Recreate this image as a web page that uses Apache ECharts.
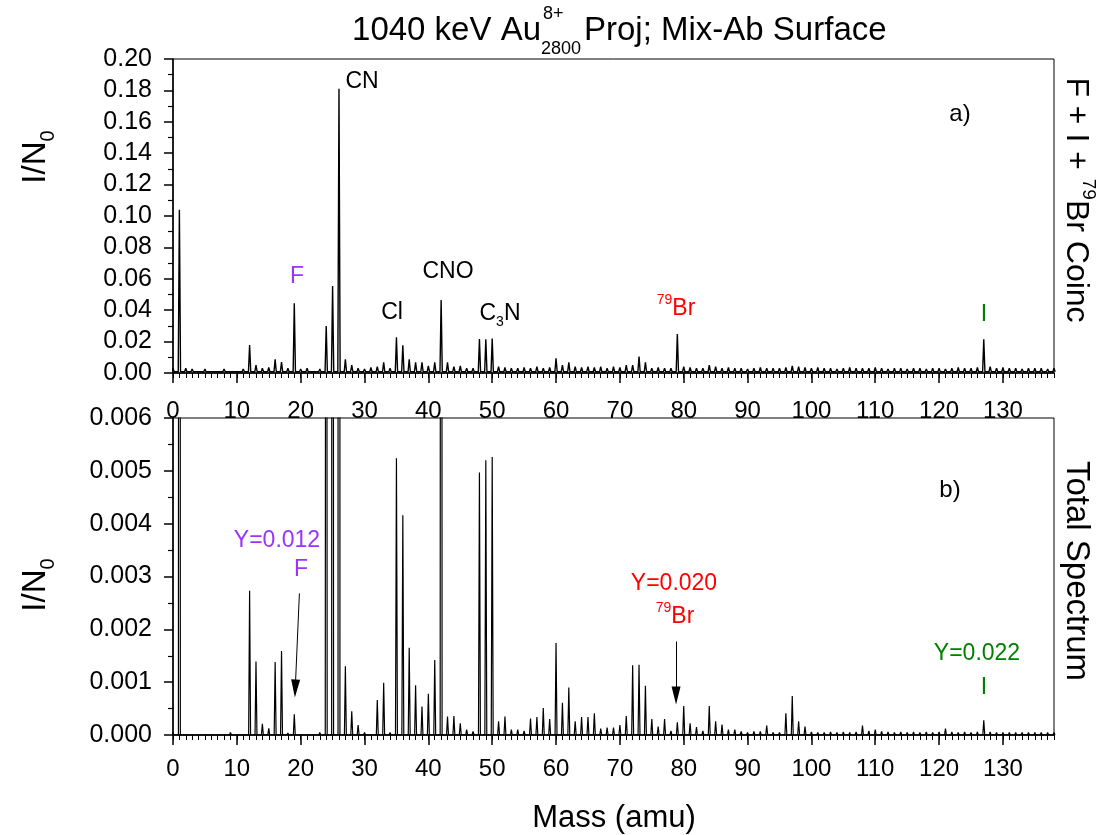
<!DOCTYPE html>
<html><head><meta charset="utf-8">
<script src="https://cdn.jsdelivr.net/npm/echarts@6/dist/echarts.min.js"></script>
<style>html,body{margin:0;padding:0;background:#fff}#c{width:1097px;height:835px}</style>
</head><body><div id="c"></div>
<script>
// ---- DATA (index = mass in amu, 0..138) ----
const xTickValues = [0,10,20,30,40,50,60,70,80,90,100,110,120,130];
const topYTicks = [0,0.02,0.04,0.06,0.08,0.10,0.12,0.14,0.16,0.18,0.20];
const bottomYTicks = [0,0.001,0.002,0.003,0.004,0.005,0.006];

// a) F + I + 79Br coincidence spectrum, I/N0 per integer mass
const coincValues = [
 0.003,0.104,0.003,0.0025,0.002,0.0025,0.002,0.002,0.0025,0.002,
 0.002,0.0025,0.0178,0.005,0.003,0.0035,0.0087,0.007,0.003,0.0444,
 0.0025,0.003,0.002,0.0025,0.030,0.0554,0.181,0.0087,0.005,0.003,
 0.0025,0.0035,0.004,0.0068,0.003,0.0227,0.0176,0.0087,0.0068,0.0068,
 0.0045,0.0068,0.0465,0.0068,0.004,0.0045,0.003,0.003,0.0217,0.0215,
 0.022,0.004,0.0035,0.003,0.003,0.0035,0.003,0.004,0.003,0.0035,
 0.0094,0.005,0.0068,0.004,0.0035,0.004,0.0035,0.004,0.003,0.004,
 0.0035,0.005,0.005,0.0104,0.0068,0.003,0.0035,0.003,0.003,0.0248,
 0.004,0.0035,0.003,0.003,0.005,0.004,0.003,0.0035,0.003,0.003,
 0.0025,0.003,0.0035,0.003,0.003,0.003,0.0035,0.0045,0.004,0.0035,
 0.003,0.0035,0.003,0.003,0.0025,0.003,0.0035,0.003,0.003,0.003,
 0.0035,0.003,0.0025,0.003,0.003,0.0025,0.003,0.003,0.0025,0.003,
 0.003,0.0025,0.003,0.0035,0.003,0.003,0.0035,0.0215,0.004,0.003,
 0.0035,0.003,0.003,0.0025,0.003,0.003,0.003,0.0025,0.003
];
const coincFloor = 0.0008;

// b) Total spectrum, I/N0 per integer mass (values above 0.006 run off scale)
const totalValues = [
 0.00005,0.08,0.00003,0.00002,0.00002,0.00002,0.00002,0.00002,0.00003,0.00005,
 0.00002,0.00002,0.00273,0.00139,0.00021,0.000126,0.00138,0.00159,0.00004,0.00039,
 0.00003,0.00002,0.00002,0.00005,0.03,0.05,0.2,0.0013,0.00045,0.00019,
 0.00005,0.00003,0.00066,0.00099,0.00005,0.00524,0.00416,0.00165,0.00094,0.00054,
 0.00078,0.00142,0.05,0.00035,0.00036,0.00022,0.0001,0.00007,0.00497,0.0052,
 0.00526,0.00026,0.00035,0.0001,0.0001,0.00008,0.00031,0.00034,0.00051,0.0003,
 0.00174,0.00061,0.0009,0.00026,0.00034,0.00034,0.00041,0.00012,0.00014,0.00014,
 0.00019,0.00036,0.00132,0.00133,0.00093,0.0003,0.00016,0.0003,0.00008,0.00024,
 0.00055,0.00022,0.00015,0.00008,0.00055,0.00026,0.0002,0.0001,0.0001,0.00007,
 0.00005,0.00007,0.00007,0.00018,0.00005,0.00005,0.00041,0.00074,0.00026,0.00016,
 0.00006,0.00005,0.00005,0.00006,0.00005,0.00006,0.00005,0.00006,0.00018,0.00008,
 0.0001,0.00007,0.00006,0.00005,0.00006,0.00005,0.00006,0.00005,0.00006,0.00005,
 0.00006,0.00012,0.00006,0.00005,0.00006,0.00005,0.00006,0.00028,0.00006,0.00005,
 0.00005,0.00005,0.00005,0.00005,0.00005,0.00005,0.00005,0.00005,0.00005
];
const totalFloor = 0;

// ---- CHART ----
const FF = 'Liberation Sans, Arial, sans-serif';
const PURPLE = '#9933ff', RED = '#ff0000', GREEN = '#008000';

function spikes(vals, floor, half) {
  const out = [];
  vals.forEach((v, m) => { out.push([m - half, floor], [m, v], [m + half, floor]); });
  return out;
}

function majorX(g, margin) {
  return {
    type: 'value', gridIndex: g, min: 0, max: 138, interval: 10, position: 'bottom',
    axisLine: { show: true, onZero: false, lineStyle: { color: '#000', width: 1.5 } },
    axisTick: { show: true, length: 10, inside: false, customValues: xTickValues, lineStyle: { color: '#000', width: 1.5 } },
    axisLabel: { show: true, customValues: xTickValues, margin: margin, fontSize: 24, color: '#000', fontFamily: FF },
    splitLine: { show: false }
  };
}
function minorX(g) {
  return {
    type: 'value', gridIndex: g, min: 0, max: 138, interval: 1, position: 'bottom',
    axisLine: { show: false },
    axisTick: { show: true, length: 5, lineStyle: { color: '#000', width: 1 } },
    axisLabel: { show: false }, splitLine: { show: false }
  };
}
function yAx(g, max, interval, digits) {
  return {
    type: 'value', gridIndex: g, min: 0, max: max, interval: interval,
    axisLine: { show: true, onZero: false, lineStyle: { color: '#000', width: 1.5 } },
    axisTick: { show: true, length: 9, lineStyle: { color: '#000', width: 1.5 } },
    minorTick: { show: true, splitNumber: 2, length: 5, lineStyle: { color: '#000', width: 1.2 } },
    axisLabel: { margin: 21, fontSize: 25, color: '#000', fontFamily: FF, formatter: v => v.toFixed(digits) },
    splitLine: { show: false }, minorSplitLine: { show: false }
  };
}

function txt(x, y, text, color, size, extra, rotation) {
  const s = size || 24, c = color || '#000';
  return {
    type: 'text', x: x, y: y, z: 100, rotation: rotation || 0,
    style: Object.assign({
      text: text, fill: c, fontSize: s, fontFamily: FF,
      align: 'center', verticalAlign: 'middle',
      rich: {
        sup: { fontSize: Math.round(s * 0.6), verticalAlign: 'top', fill: c, fontFamily: FF },
        sub: { fontSize: Math.round(s * 0.6), verticalAlign: 'bottom', fill: c, fontFamily: FF },
        n: { fontSize: s, fill: c, fontFamily: FF, lineHeight: Math.round(s * 1.35) }
      }
    }, extra || {})
  };
}

const chart = echarts.init(document.getElementById('c'), null, { renderer: 'canvas' });
chart.setOption({
  animation: false,
  backgroundColor: '#fff',
  grid: [
    { left: 173, width: 881, top: 59, height: 314, show: true, borderColor: '#000', borderWidth: 1 },
    { left: 173, width: 881, top: 418, height: 317, show: true, borderColor: '#000', borderWidth: 1 }
  ],
  xAxis: [majorX(0, 26), minorX(0), majorX(1, 22), minorX(1)],
  yAxis: [yAx(0, 0.2, 0.02, 2), yAx(1, 0.006, 0.001, 3)],
  series: [
    {
      type: 'line', xAxisIndex: 0, yAxisIndex: 0, data: spikes(coincValues, coincFloor, 0.18),
      showSymbol: false, symbol: 'none', clip: true,
      lineStyle: { color: '#000', width: 1.4 }
    },
    {
      type: 'line', xAxisIndex: 2, yAxisIndex: 1, data: spikes(totalValues, totalFloor, 0.15),
      showSymbol: false, symbol: 'none', clip: true,
      lineStyle: { color: '#000', width: 1.2 },
      markLine: {
        silent: true, symbol: ['none', 'triangle'], symbolSize: [9, 18],
        label: { show: false },
        lineStyle: { color: '#000', width: 1, type: 'solid' },
        data: [
          [{ coord: [19.8, 0.00268] }, { coord: [19.15, 0.00088] }],
          [{ coord: [78.8, 0.00177] }, { coord: [78.8, 0.00075] }]
        ]
      }
    }
  ],
  graphic: [
    // title
    txt(541, 31, '1040 keV Au', '#000', 33, { align: 'right' }),
    txt(543, 14, '8+', '#000', 18, { align: 'left' }),
    txt(541, 49, '2800', '#000', 18, { align: 'left' }),
    txt(584, 31, 'Proj; Mix-Ab Surface', '#000', 33, { align: 'left' }),
    // axis names
    txt(36, 157, '{n|I/N}{sub|0}', '#000', 33, {}, Math.PI / 2),
    txt(36, 585, '{n|I/N}{sub|0}', '#000', 33, {}, Math.PI / 2),
    txt(614, 818, 'Mass (amu)', '#000', 31, {}),
    txt(1076, 200, '{n|F + I + }{sup|79}{n|Br Coinc}', '#000', 32, {}, -Math.PI / 2),
    txt(1076, 571, 'Total Spectrum', '#000', 33, {}, -Math.PI / 2),
    // panel a annotations
    txt(362, 82, 'CN', '#000', 23),
    txt(297, 277, 'F', PURPLE, 23),
    txt(392, 313, 'Cl', '#000', 23),
    txt(448, 272, 'CNO', '#000', 23),
    txt(500, 314, '{n|C}{sub|3}{n|N}', '#000', 23),
    txt(676, 309, '{sup|79}{n|Br}', RED, 23),
    txt(984, 315, 'I', GREEN, 23),
    txt(960, 114, 'a)', '#000', 24),
    // panel b annotations
    txt(277, 541, 'Y=0.012', PURPLE, 23),
    txt(301, 570, 'F', PURPLE, 23),
    txt(674, 584, 'Y=0.020', RED, 23),
    txt(675, 617, '{sup|79}{n|Br}', RED, 23),
    txt(977, 654, 'Y=0.022', GREEN, 23),
    txt(984, 688, 'I', GREEN, 23),
    txt(950, 490, 'b)', '#000', 24)
  ]
});
</script>
</body></html>
